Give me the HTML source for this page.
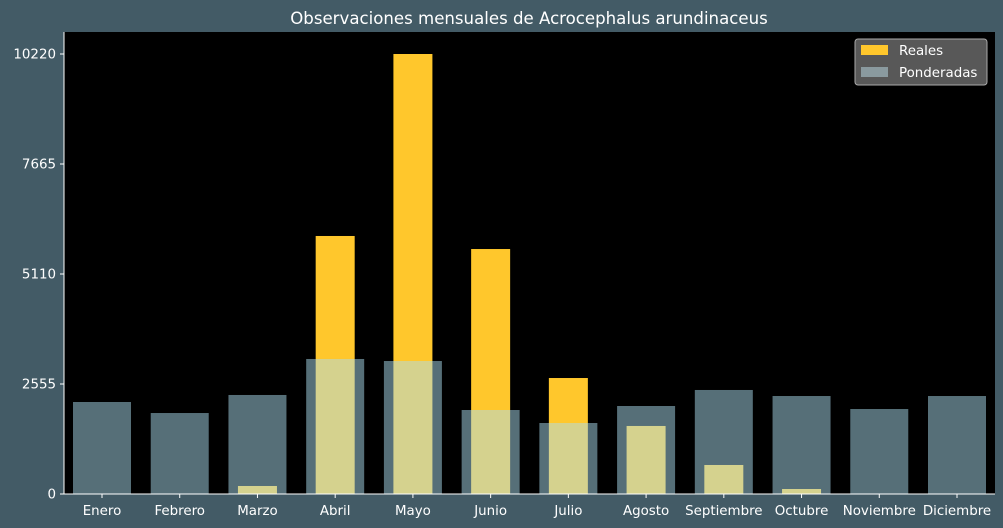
<!DOCTYPE html>
<html><head><meta charset="utf-8"><style>
html,body{margin:0;padding:0;background:#435b66;width:1003px;height:528px;overflow:hidden;font-family:"DejaVu Sans","Liberation Sans",sans-serif}
svg text{font-family:"DejaVu Sans","Liberation Sans",sans-serif}
</style></head><body>
<svg id="chart" width="1003" height="528" xmlns="http://www.w3.org/2000/svg"></svg>
<script>
const categories=["Enero","Febrero","Marzo","Abril","Mayo","Junio","Julio","Agosto","Septiembre","Octubre","Noviembre","Diciembre"];
const reales=[0,0,186,5993,10220,5690,2694,1580,674,116,0,0];
const ponderadas=[2137,1881,2300,3136,3089,1951,1649,2044,2416,2276,1974,2276];
const yTicks=[0,2555,5110,7665,10220];
const NS="http://www.w3.org/2000/svg";
const svg=document.getElementById('chart');
const L=64,R=995,T=32,B=494;
const step=(957-102)/11;
function x(i){return 102+i*step;}
function y(v){return B-v*(440/10220);}
function el(t,a,p){const e=document.createElementNS(NS,t);for(const k in a)e.setAttribute(k,a[k]);(p||svg).appendChild(e);return e;}
const plot=el('rect',{x:L,y:T,width:R-L,height:B-T,fill:'#000'});


const title=el('text',{x:529,y:24,fill:'#fff','font-size':16.6,'text-anchor':'middle'});
title.textContent='Observaciones mensuales de Acrocephalus arundinaceus';


reales.forEach((v,i)=>{
 const r=el('rect',{x:x(i)-19.5,y:y(v),width:39,height:B-y(v),fill:'#ffc72c'});
 
 
});
ponderadas.forEach((v,i)=>{
 const r=el('rect',{x:x(i)-29,y:y(v),width:58,height:B-y(v),fill:'rgba(172,222,240,0.5)'});
 
 
});
el('line',{x1:L,y1:T,x2:L,y2:B,stroke:'#fff','stroke-width':1});
el('line',{x1:L,y1:B,x2:R,y2:B,stroke:'#fff','stroke-width':1});
yTicks.forEach(v=>{
 el('line',{x1:L-4,y1:y(v),x2:L,y2:y(v),stroke:'#fff'});
 const t=el('text',{x:L-8,y:y(v)+4.5,fill:'#fff','font-size':13.4,'text-anchor':'end'});
 t.textContent=v;
 
 
});
categories.forEach((c,i)=>{
 el('line',{x1:x(i),y1:B,x2:x(i),y2:B+4,stroke:'#fff'});
 const t=el('text',{x:x(i),y:B+21,fill:'#fff','font-size':13.4,'text-anchor':'middle'});
 t.textContent=c;
 
 
});
const lg=el('g',{});


el('rect',{x:855,y:39,width:132,height:46,rx:3,fill:'#585858',stroke:'#aaa','stroke-width':1},lg);
el('rect',{x:861,y:45,width:27,height:10,fill:'#ffc72c'},lg);
el('rect',{x:861,y:67,width:27,height:10,fill:'#8a9a9f'},lg);
const l1=el('text',{x:899,y:55,fill:'#fff','font-size':13.4},lg);l1.textContent='Reales';


const l2=el('text',{x:899,y:77,fill:'#fff','font-size':13.4},lg);l2.textContent='Ponderadas';


</script>
</body></html>
